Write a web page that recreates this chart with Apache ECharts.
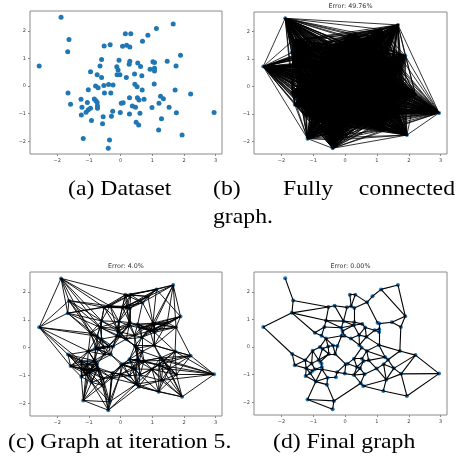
<!DOCTYPE html>
<html>
<head>
<meta charset="utf-8">
<script src="https://cdn.jsdelivr.net/npm/echarts@6/dist/echarts.min.js"></script>
<style>
  html, body { margin: 0; padding: 0; background: #fff; }
  #chart { width: 457px; height: 467px; }
</style>
</head>
<body>
<div id="chart"></div>
<script>
// dataset points
const xVals = [-1.88, -1.63, -1.67, -2.57, -1.66, -1.58, -1.25, -1.22, -1.24, -1.18,
  -1.02, -0.95, -1.05, -1.09, -1.02, -0.95, -0.92, -0.83, -0.78, -0.74,
  -0.73, -0.73, -0.79, -0.71, -0.74, -0.65, -0.60, -0.60, -0.53, -0.51,
  -0.55, -0.57, -0.52, -0.33, -0.38, -0.31, -0.24, -0.29, -0.25, -0.35,
  -0.39, -0.12, -0.08, -0.05, -0.11, -0.02, -0.01, 0.02, 0.08, 0.06,
  0.15, 0.19, 0.18, 0.32, 0.29, 0.27, 0.29, 0.28, 0.28, 0.37,
  0.44, 0.45, 0.47, 0.49, 0.52, 0.54, 0.53, 0.57, 0.58, 0.63,
  0.61, 0.67, 0.69, 0.68, 0.74, 0.86, 0.93, 0.99, 1.02, 1.07,
  1.07, 1.07, 1.06, 1.13, 1.21, 1.20, 1.26, 1.29, 1.35, 1.47,
  1.53, 1.72, 1.66, 1.75, 1.89, 1.76, 1.94, 2.21, 2.95];
const yVals = [2.49, 1.69, 1.24, 0.73, -0.25, -0.66, -0.48, -0.77, -1.05, -1.90,
  -0.13, 0.52, -0.59, -0.95, -0.86, -0.80, -1.25, -0.47, -0.53, -0.59,
  -0.72, -0.80, 0.00, -0.06, 0.41, 0.73, 0.96, 0.31, 0.02, -0.25,
  -1.11, -1.36, 1.45, 1.50, 0.06, -0.25, 0.04, -1.09, -0.91, -1.95,
  -2.25, 0.70, 0.58, 0.94, 0.41, 0.41, -0.96, -0.62, -0.60, 1.44,
  1.90, 1.48, 0.31, 1.90, 1.42, 0.79, 0.90, -0.42, -1.01, -0.72,
  0.44, 0.07, -0.77, -1.31, -0.02, 0.84, -0.42, -1.41, -0.50, 0.71,
  -0.98, 0.37, 1.62, -0.14, -0.48, 1.84, 0.61, -0.78, 0.88, 0.85,
  0.55, 0.65, 0.08, 2.09, -0.62, -1.59, -0.37, -1.18, -0.46, 0.90,
  -0.77, -0.14, 2.25, 0.73, 1.12, -0.97, -1.77, -0.29, -0.96];

const xTicks = [-2, -1, 0, 1, 2, 3];
const yTicks = [-2, -1, 0, 1, 2];
const panelTitles = ['', 'Error: 49.76%', 'Error: 4.0%', 'Error: 0.00%'];

const n = xVals.length;
const d2 = (i, j) => (xVals[i] - xVals[j]) ** 2 + (yVals[i] - yVals[j]) ** 2;

// fully connected
const allPairs = [];
for (let i = 0; i < n; i++) for (let j = i + 1; j < n; j++) allPairs.push([i, j]);

// final graph ~ gabriel graph of the points
const gabriel = [];
for (let i = 0; i < n; i++) {
  for (let j = i + 1; j < n; j++) {
    const mx = (xVals[i] + xVals[j]) / 2, my = (yVals[i] + yVals[j]) / 2;
    const r2 = d2(i, j) / 4;
    let ok = true;
    for (let k = 0; k < n && ok; k++) {
      if (k === i || k === j) continue;
      if ((xVals[k] - mx) ** 2 + (yVals[k] - my) ** 2 < r2) ok = false;
    }
    if (ok) gabriel.push([i, j]);
  }
}

// iteration 5 ~ nearest neighbours plus the final edges
const iterSet = new Set(gabriel.map(e => e[0] + '-' + e[1]));
for (let i = 0; i < n; i++) {
  const others = [];
  for (let j = 0; j < n; j++) if (j !== i) others.push(j);
  others.sort((a, b) => d2(i, a) - d2(i, b));
  others.slice(0, 9).forEach(j => iterSet.add(Math.min(i, j) + '-' + Math.max(i, j)));
}
const iterEdges = [...iterSet].map(s => s.split('-').map(Number));

const edgeSets = [null, allPairs, iterEdges, gabriel];
const edgeWidth = [0, 0.8, 0.9, 1.1];

const grids = [
  { left: 30, top: 11, width: 192, height: 143 },
  { left: 254, top: 12, width: 193, height: 142 },
  { left: 30, top: 272, width: 192, height: 144 },
  { left: 254, top: 272, width: 193, height: 143 }
];

const minus = v => String(v).replace('-', '\u2212');
const tickStyle = { fontSize: 5, color: '#444', fontFamily: 'DejaVu Sans' };

const option = {
  animation: false,
  grid: grids.map(g => ({ ...g, show: true, borderColor: '#8a8a8a', borderWidth: 1 })),
  xAxis: grids.map((g, i) => ({
    type: 'value', gridIndex: i, min: -2.86, max: 3.2, position: 'bottom',
    axisLine: { show: false, onZero: false },
    splitLine: { show: false },
    axisTick: { show: true, length: 2, customValues: xTicks, lineStyle: { color: '#888' } },
    axisLabel: { customValues: xTicks, margin: 4, formatter: minus, ...tickStyle }
  })),
  yAxis: grids.map((g, i) => ({
    type: 'value', gridIndex: i, min: -2.46, max: 2.72, position: 'left',
    axisLine: { show: false, onZero: false },
    splitLine: { show: false },
    axisTick: { show: true, length: 2, customValues: yTicks, lineStyle: { color: '#888' } },
    axisLabel: { customValues: yTicks, margin: 4, formatter: minus, ...tickStyle }
  })),
  series: [],
  graphic: []
};

const pts = xVals.map((x, i) => [x, yVals[i]]);
grids.forEach((g, i) => {
  option.series.push({
    type: 'scatter', xAxisIndex: i, yAxisIndex: i,
    data: pts, symbolSize: i === 0 ? 5 : 4,
    itemStyle: { color: '#1f77b4', opacity: 1 }, z: 2, silent: true
  });
  if (edgeSets[i]) {
    option.series.push({
      type: 'lines', coordinateSystem: 'cartesian2d', xAxisIndex: i, yAxisIndex: i,
      data: edgeSets[i].map(([a, b]) => ({ coords: [pts[a], pts[b]] })),
      lineStyle: { color: '#000', width: edgeWidth[i], opacity: 1 }, z: 3, silent: true
    });
  }
  if (panelTitles[i]) {
    option.graphic.push({
      type: 'text', x: g.left + g.width / 2, y: g.top - 6,
      style: { text: panelTitles[i], fontSize: 6.4, fontFamily: 'DejaVu Sans', fill: '#333', align: 'center', verticalAlign: 'middle' }
    });
  }
});

// captions under the panels
const capFont = { fontSize: 21, fontFamily: 'Liberation Serif', fill: '#000', verticalAlign: 'middle' };
const captions = [
  { text: '(a) Dataset', x: 68, y: 189 },
  { text: '(b)', x: 213, y: 189 },
  { text: 'Fully', x: 283, y: 189 },
  { text: 'connected', x: 455, y: 189, align: 'right' },
  { text: 'graph.', x: 213, y: 217 },
  { text: '(c) Graph at iteration 5.', x: 8, y: 442 },
  { text: '(d) Final graph', x: 273, y: 442 }
];
captions.forEach(c => {
  option.graphic.push({
    type: 'text', x: c.x, y: c.y, scaleX: 1.13,
    style: { ...capFont, text: c.text, align: c.align || 'left' }
  });
});

const chart = echarts.init(document.getElementById('chart'));
chart.setOption(option);
</script>
</body>
</html>
